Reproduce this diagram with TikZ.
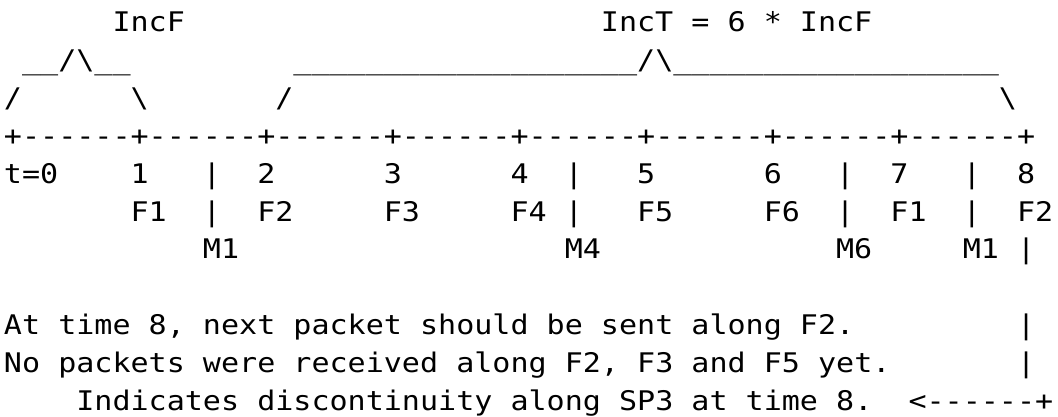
\documentclass[tikz,border=0pt]{standalone}
\usepackage{fontspec}
\newfontfamily\ascfont[FakeStretch=1.113]{DejaVu Sans Mono}
\tikzset{
  asc/.style={font=\ascfont\fontsize{27}{27}\selectfont, anchor=base west, inner sep=0pt, outer sep=0pt, text=black}
}
\frenchspacing
\begin{document}
\begin{tikzpicture}[x=18.09pt, y=-37.9pt]
\useasboundingbox (-4pt,31.5pt) rectangle (1054pt,-384.5pt);
% row 0
\node[asc] (incf) at (6,0) {IncF};
\node[asc] (inct) at (33,0) {IncT = 6 * IncF};
% row 1
\node[asc] (capF) at (1,1) {\_\_/\textbackslash\_\_};
\node[asc] (capT) at (16,1) {\_\_\_\_\_\_\_\_\_\_\_\_\_\_\_\_\_\_\_/\textbackslash\_\_\_\_\_\_\_\_\_\_\_\_\_\_\_\_\_\_};
% row 2
\node[asc] (sl1) at (0,2) {/};
\node[asc] (bs1) at (7,2) {\textbackslash};
\node[asc] (sl2) at (15,2) {/};
\node[asc] (bs2) at (55,2) {\textbackslash};
% row 3
\node[asc] (axis) at (0,3) {+------+------+------+------+------+------+------+------+};
% row 4
\node[asc] (t0) at (0,4) {t=0};
\node[asc] (n1) at (7,4) {1};
\node[asc] (b1a) at (11,4) {|};
\node[asc] (n2) at (14,4) {2};
\node[asc] (n3) at (21,4) {3};
\node[asc] (n4) at (28,4) {4};
\node[asc] (b4a) at (31,4) {|};
\node[asc] (n5) at (35,4) {5};
\node[asc] (n6) at (42,4) {6};
\node[asc] (b6a) at (46,4) {|};
\node[asc] (n7) at (49,4) {7};
\node[asc] (b7a) at (53,4) {|};
\node[asc] (n8) at (56,4) {8};
% row 5
\node[asc] (f1) at (7,5) {F1};
\node[asc] (b1b) at (11,5) {|};
\node[asc] (f2) at (14,5) {F2};
\node[asc] (f3) at (21,5) {F3};
\node[asc] (f4) at (28,5) {F4};
\node[asc] (b4b) at (31,5) {|};
\node[asc] (f5) at (35,5) {F5};
\node[asc] (f6) at (42,5) {F6};
\node[asc] (b6b) at (46,5) {|};
\node[asc] (f7) at (49,5) {F1};
\node[asc] (b7b) at (53,5) {|};
\node[asc] (f8) at (56,5) {F2};
% row 6
\node[asc] (m1) at (11,6) {M1};
\node[asc] (m4) at (31,6) {M4};
\node[asc] (m6) at (46,6) {M6};
\node[asc] (m7) at (53,6) {M1};
\node[asc] (v1) at (56,6) {|};
% rows 8-10
\node[asc] (txa) at (0,8) {At time 8, next packet should be sent along F2.};
\node[asc] (v2) at (56,8) {|};
\node[asc] (txb) at (0,9) {No packets were received along F2, F3 and F5 yet.};
\node[asc] (v3) at (56,9) {|};
\node[asc] (txc) at (4,10) {Indicates discontinuity along SP3 at time 8.};
\node[asc] (arr) at (50,10) {<------+};
\end{tikzpicture}
\end{document}
